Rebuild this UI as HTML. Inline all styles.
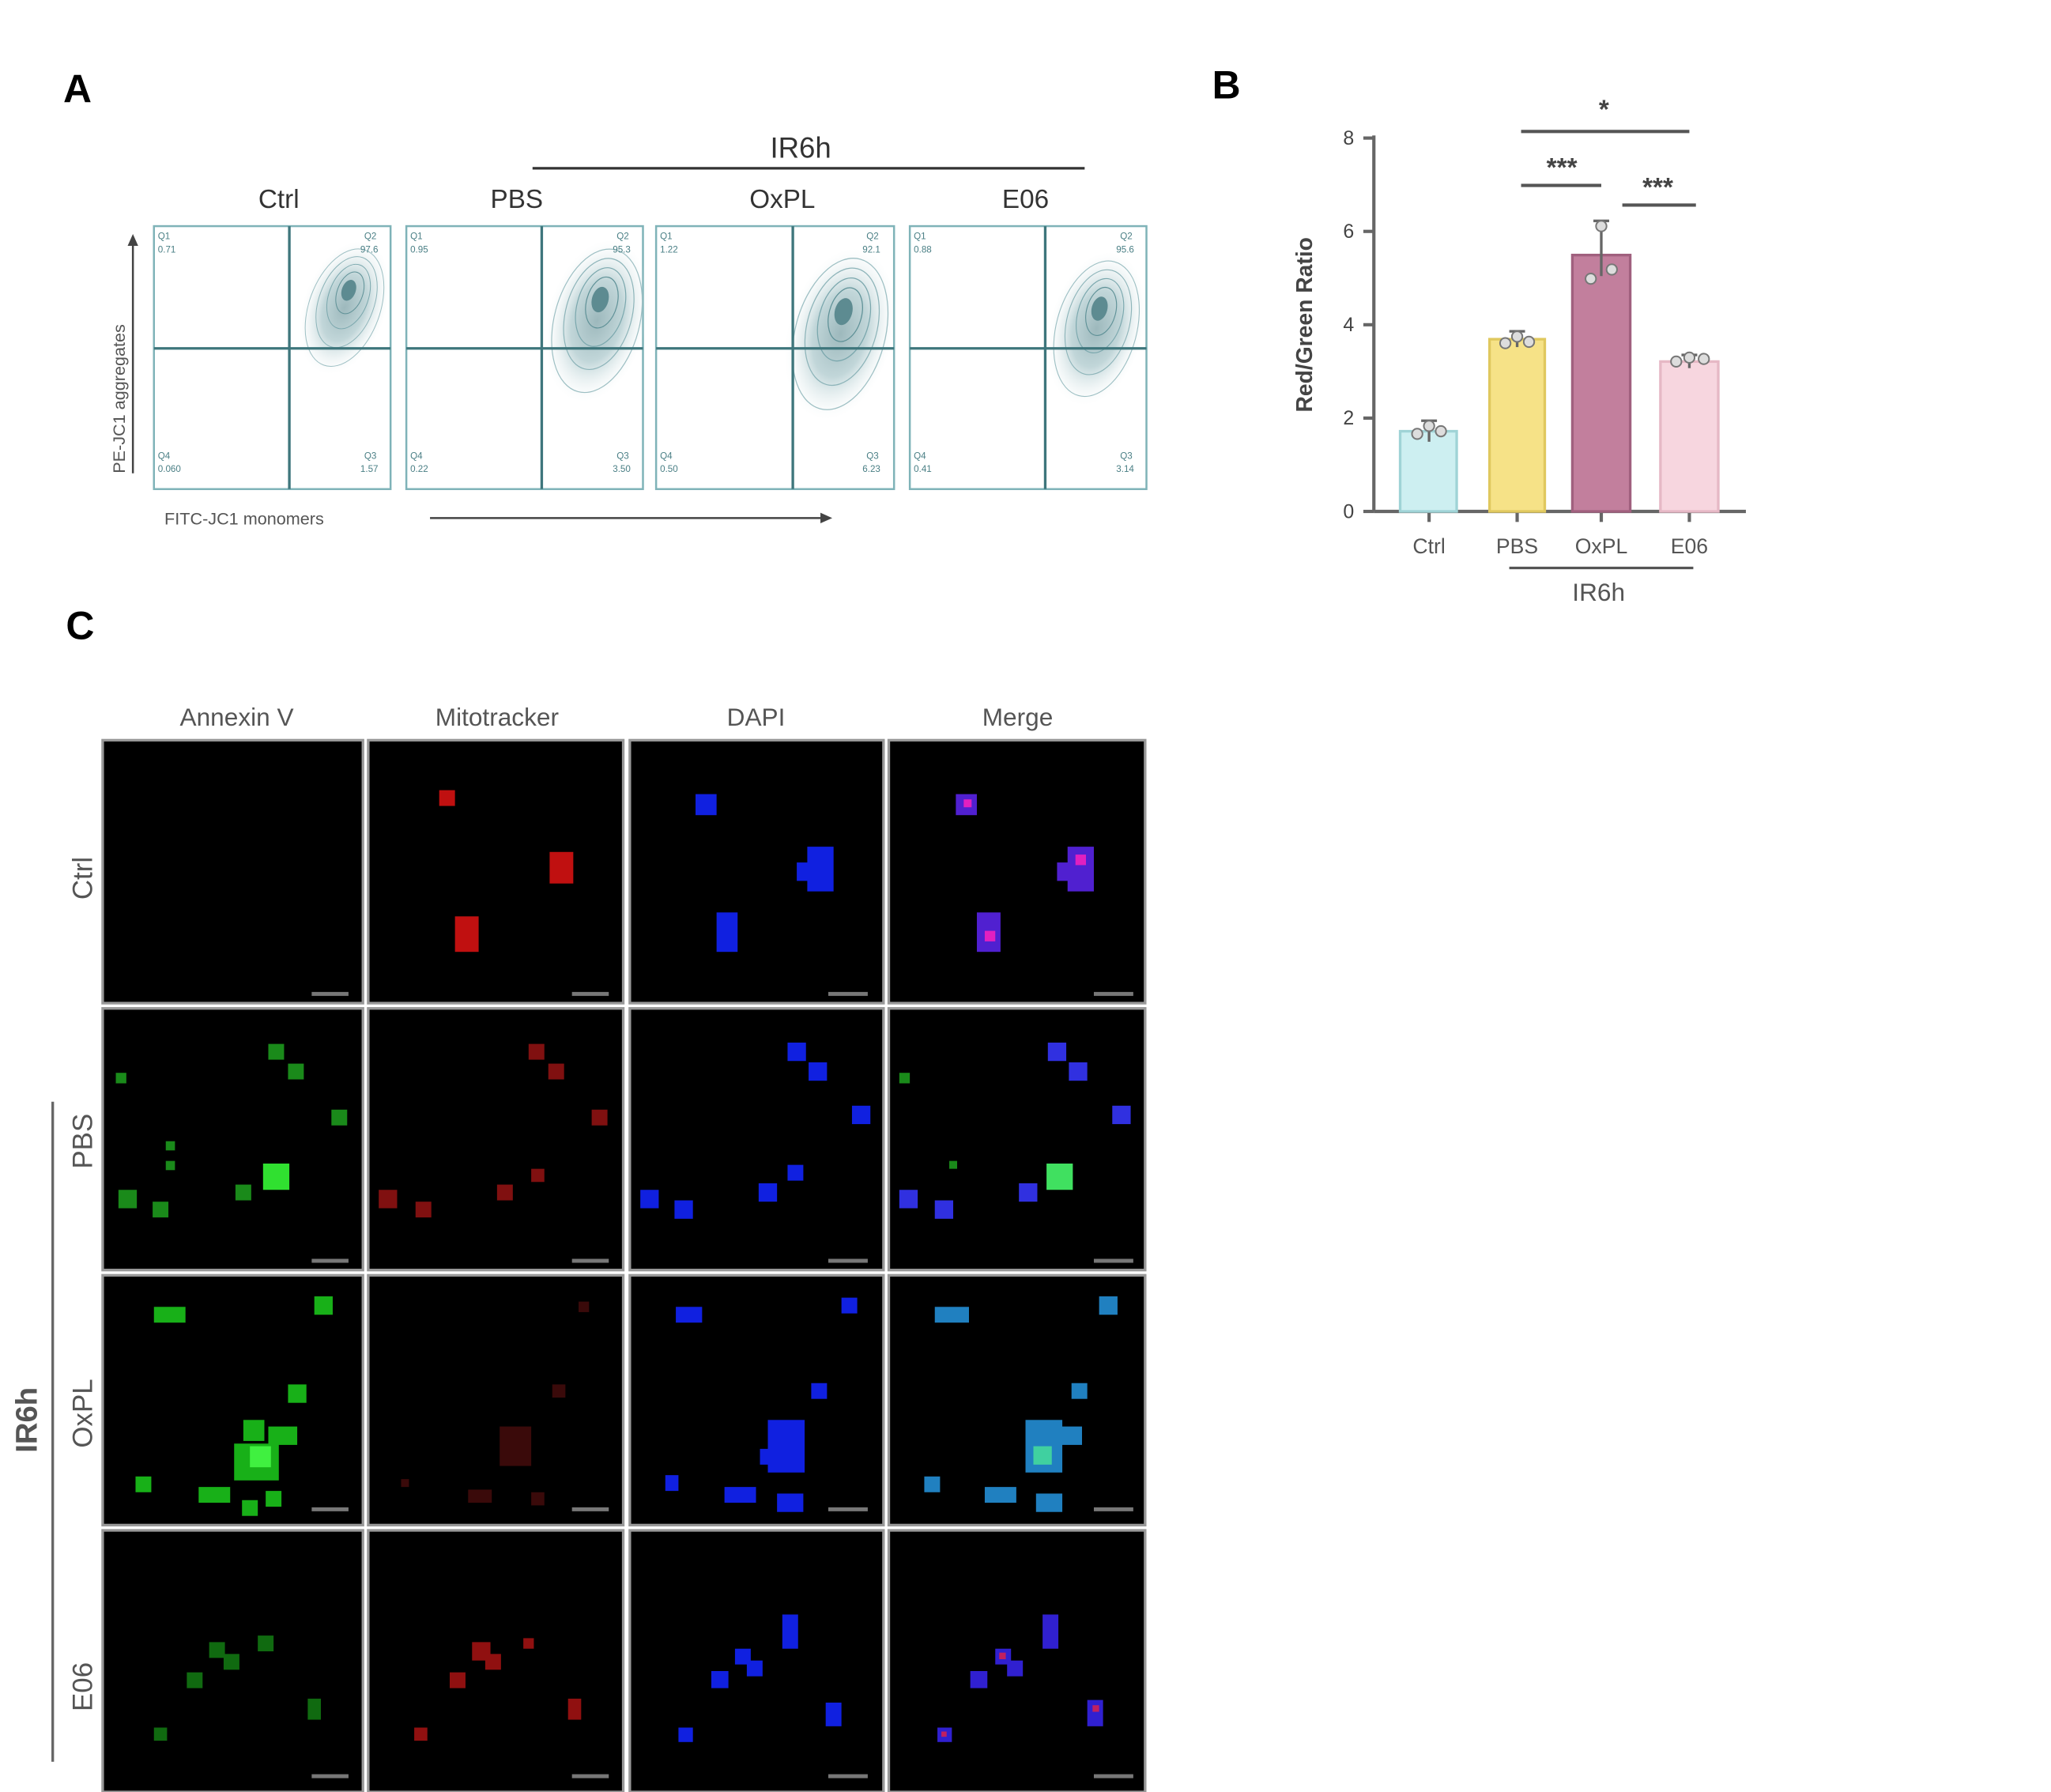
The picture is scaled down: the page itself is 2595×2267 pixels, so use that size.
<!DOCTYPE html>
<html><head><meta charset="utf-8"><style>
html,body{margin:0;padding:0;background:#fff;}
svg{display:block;font-family:"Liberation Sans",Arial,sans-serif;}
</style></head><body>
<svg width="2595" height="2267" viewBox="0 0 1560 1363" xmlns="http://www.w3.org/2000/svg">
<defs>
<radialGradient id="blob" cx="50%" cy="50%" r="50%">
<stop offset="0" stop-color="#4d7f86"/><stop offset="0.5" stop-color="#8fb5ba"/><stop offset="1" stop-color="#e6f0f1" stop-opacity="0"/>
</radialGradient>
<g id="contour">
<ellipse cx="0" cy="0" rx="42" ry="70" fill="url(#blob)" opacity="0.55"/>
<ellipse cx="0" cy="0" rx="36" ry="62" fill="none" stroke="#9dbfc3" stroke-width="0.8"/>
<ellipse cx="0" cy="-6" rx="28" ry="48" fill="none" stroke="#8db4b9" stroke-width="0.8"/>
<ellipse cx="0" cy="-12" rx="20" ry="34" fill="none" stroke="#7aa7ad" stroke-width="0.8"/>
<ellipse cx="0" cy="-16" rx="13" ry="22" fill="none" stroke="#5f9197" stroke-width="0.8"/>
<ellipse cx="-2" cy="-18" rx="7" ry="11" fill="#5d8b91"/>
</g>
</defs>
<rect width="1560" height="1363" fill="#fff"/>

<!-- Panel letters -->
<text x="48" y="78" font-size="30" font-weight="bold">A</text>
<text x="922" y="75" font-size="30" font-weight="bold">B</text>
<text x="50" y="486" font-size="30" font-weight="bold">C</text>

<!-- A: flow -->
<text x="609" y="120" font-size="22" text-anchor="middle" fill="#333">IR6h</text>
<line x1="405" y1="128" x2="825" y2="128" stroke="#333" stroke-width="2"/>
<g font-size="20" fill="#333" text-anchor="middle">
<text x="212" y="158">Ctrl</text><text x="393" y="158">PBS</text><text x="595" y="158">OxPL</text><text x="780" y="158">E06</text>
</g>
<g>
<g transform="translate(117,172)">
<rect width="180" height="200" fill="#fff" stroke="#7fb3b8" stroke-width="1.5"/>
<use href="#contour" transform="translate(145,62) rotate(20) scale(0.75)"/>
<line x1="103" y1="0" x2="103" y2="200" stroke="#3e767c" stroke-width="2"/>
<line x1="0" y1="93" x2="180" y2="93" stroke="#3e767c" stroke-width="2"/>
<g font-size="7" fill="#4a7f85"><text x="3" y="10">Q1</text><text x="3" y="20">0.71</text><text x="160" y="10">Q2</text><text x="157" y="20">97.6</text><text x="3" y="177">Q4</text><text x="3" y="187">0.060</text><text x="160" y="177">Q3</text><text x="157" y="187">1.57</text></g>
</g>
<g transform="translate(309,172)">
<rect width="180" height="200" fill="#fff" stroke="#7fb3b8" stroke-width="1.5"/>
<use href="#contour" transform="translate(145,72) rotate(15) scale(0.9)"/>
<line x1="103" y1="0" x2="103" y2="200" stroke="#3e767c" stroke-width="2"/>
<line x1="0" y1="93" x2="180" y2="93" stroke="#3e767c" stroke-width="2"/>
<g font-size="7" fill="#4a7f85"><text x="3" y="10">Q1</text><text x="3" y="20">0.95</text><text x="160" y="10">Q2</text><text x="157" y="20">95.3</text><text x="3" y="177">Q4</text><text x="3" y="187">0.22</text><text x="160" y="177">Q3</text><text x="157" y="187">3.50</text></g>
</g>
<g transform="translate(499,172)">
<rect width="181" height="200" fill="#fff" stroke="#7fb3b8" stroke-width="1.5"/>
<use href="#contour" transform="translate(140,82) rotate(15) scale(0.95)"/>
<line x1="104" y1="0" x2="104" y2="200" stroke="#3e767c" stroke-width="2"/>
<line x1="0" y1="93" x2="181" y2="93" stroke="#3e767c" stroke-width="2"/>
<g font-size="7" fill="#4a7f85"><text x="3" y="10">Q1</text><text x="3" y="20">1.22</text><text x="160" y="10">Q2</text><text x="157" y="20">92.1</text><text x="3" y="177">Q4</text><text x="3" y="187">0.50</text><text x="160" y="177">Q3</text><text x="157" y="187">6.23</text></g>
</g>
<g transform="translate(692,172)">
<rect width="180" height="200" fill="#fff" stroke="#7fb3b8" stroke-width="1.5"/>
<use href="#contour" transform="translate(142,78) rotate(15) scale(0.85)"/>
<line x1="103" y1="0" x2="103" y2="200" stroke="#3e767c" stroke-width="2"/>
<line x1="0" y1="93" x2="180" y2="93" stroke="#3e767c" stroke-width="2"/>
<g font-size="7" fill="#4a7f85"><text x="3" y="10">Q1</text><text x="3" y="20">0.88</text><text x="160" y="10">Q2</text><text x="157" y="20">95.6</text><text x="3" y="177">Q4</text><text x="3" y="187">0.41</text><text x="160" y="177">Q3</text><text x="157" y="187">3.14</text></g>
</g>
</g>
<text x="125" y="399" font-size="13" fill="#555">FITC-JC1 monomers</text>
<line x1="327" y1="394" x2="630" y2="394" stroke="#444" stroke-width="1.5"/>
<polygon points="633,394 624,390 624,398" fill="#444"/>
<text transform="translate(95,360) rotate(-90)" font-size="13" fill="#555">PE-JC1 aggregates</text>
<line x1="101" y1="360" x2="101" y2="182" stroke="#444" stroke-width="1.5"/>
<polygon points="101,178 97,187 105,187" fill="#444"/>

<!-- B: bar chart -->
<g stroke="#666" stroke-width="2.5" fill="none">
<line x1="1045" y1="103" x2="1045" y2="389"/>
<line x1="1045" y1="389" x2="1328" y2="389"/>
<line x1="1037" y1="105" x2="1045" y2="105"/><line x1="1037" y1="176" x2="1045" y2="176"/>
<line x1="1037" y1="247" x2="1045" y2="247"/><line x1="1037" y1="318" x2="1045" y2="318"/>
<line x1="1037" y1="389" x2="1045" y2="389"/>
<line x1="1087" y1="389" x2="1087" y2="397"/><line x1="1154" y1="389" x2="1154" y2="397"/>
<line x1="1218" y1="389" x2="1218" y2="397"/><line x1="1285" y1="389" x2="1285" y2="397"/>
</g>
<g font-size="15" fill="#444" text-anchor="end">
<text x="1030" y="110">8</text><text x="1030" y="181">6</text><text x="1030" y="252">4</text><text x="1030" y="323">2</text><text x="1030" y="394">0</text>
</g>
<text transform="translate(998,247) rotate(-90)" font-size="17" font-weight="bold" fill="#444" text-anchor="middle">Red/Green Ratio</text>
<rect x="1065" y="328" width="43" height="61" fill="#cdeff1" stroke="#9fd3d6" stroke-width="2"/>
<rect x="1133" y="258" width="42" height="131" fill="#f6e287" stroke="#e0c85e" stroke-width="2"/>
<rect x="1196" y="194" width="44" height="195" fill="#c27f9d" stroke="#a0607e" stroke-width="2"/>
<rect x="1263" y="275" width="44" height="114" fill="#f7d6df" stroke="#e6b8c5" stroke-width="2"/>
<g stroke="#666" stroke-width="2">
<line x1="1087" y1="320" x2="1087" y2="336"/><line x1="1081" y1="320" x2="1093" y2="320"/>
<line x1="1154" y1="252" x2="1154" y2="264"/><line x1="1148" y1="252" x2="1160" y2="252"/>
<line x1="1218" y1="168" x2="1218" y2="210"/><line x1="1212" y1="168" x2="1224" y2="168"/>
<line x1="1285" y1="270" x2="1285" y2="280"/><line x1="1279" y1="270" x2="1291" y2="270"/>
</g>
<g fill="#ddd" stroke="#777" stroke-width="1.2">
<circle cx="1078" cy="330" r="4"/><circle cx="1087" cy="324" r="4"/><circle cx="1096" cy="328" r="4"/>
<circle cx="1145" cy="261" r="4"/><circle cx="1154" cy="256" r="4"/><circle cx="1163" cy="260" r="4"/>
<circle cx="1210" cy="212" r="4"/><circle cx="1218" cy="172" r="4"/><circle cx="1226" cy="205" r="4"/>
<circle cx="1275" cy="275" r="4"/><circle cx="1285" cy="272" r="4"/><circle cx="1296" cy="273" r="4"/>
</g>
<g font-size="16" fill="#555" text-anchor="middle">
<text x="1087" y="421">Ctrl</text><text x="1154" y="421">PBS</text><text x="1218" y="421">OxPL</text><text x="1285" y="421">E06</text>
<text x="1216" y="457" font-size="19">IR6h</text>
</g>
<line x1="1148" y1="432" x2="1288" y2="432" stroke="#555" stroke-width="2"/>
<g stroke="#555" stroke-width="2.5">
<line x1="1157" y1="100" x2="1285" y2="100"/>
<line x1="1157" y1="141" x2="1218" y2="141"/>
<line x1="1234" y1="156" x2="1290" y2="156"/>
</g>
<g font-size="20" font-weight="bold" fill="#444" text-anchor="middle">
<text x="1220" y="90">*</text><text x="1188" y="134">***</text><text x="1261" y="149">***</text>
</g>

<!-- C: images -->
<g font-size="19" fill="#555" text-anchor="middle">
<text x="180" y="552">Annexin V</text><text x="378" y="552">Mitotracker</text><text x="575" y="552">DAPI</text><text x="774" y="552">Merge</text>
</g>
<g font-size="21" fill="#555" text-anchor="middle">
<text transform="translate(70,668) rotate(-90)">Ctrl</text>
<text transform="translate(70,868) rotate(-90)">PBS</text>
<text transform="translate(70,1075) rotate(-90)">OxPL</text>
<text transform="translate(70,1283) rotate(-90)">E06</text>
<text transform="translate(28,1080) rotate(-90)" font-weight="bold" font-size="23">IR6h</text>
</g>
<line x1="40" y1="838" x2="40" y2="1340" stroke="#666" stroke-width="2"/>

<g stroke="#999" stroke-width="2" fill="#000">
<rect x="78" y="563" width="198" height="200"/><rect x="280" y="563" width="194" height="200"/><rect x="479" y="563" width="193" height="200"/><rect x="676" y="563" width="195" height="200"/>
<rect x="78" y="767" width="198" height="199"/><rect x="280" y="767" width="194" height="199"/><rect x="479" y="767" width="193" height="199"/><rect x="676" y="767" width="195" height="199"/>
<rect x="78" y="970" width="198" height="190"/><rect x="280" y="970" width="194" height="190"/><rect x="479" y="970" width="193" height="190"/><rect x="676" y="970" width="195" height="190"/>
<rect x="78" y="1164" width="198" height="199"/><rect x="280" y="1164" width="194" height="199"/><rect x="479" y="1164" width="193" height="199"/><rect x="676" y="1164" width="195" height="199"/>
</g>
<g stroke="#777" stroke-width="3">
<line x1="237" y1="756" x2="265" y2="756"/><line x1="435" y1="756" x2="463" y2="756"/><line x1="630" y1="756" x2="660" y2="756"/><line x1="832" y1="756" x2="862" y2="756"/>
<line x1="237" y1="959" x2="265" y2="959"/><line x1="435" y1="959" x2="463" y2="959"/><line x1="630" y1="959" x2="660" y2="959"/><line x1="832" y1="959" x2="862" y2="959"/>
<line x1="237" y1="1148" x2="265" y2="1148"/><line x1="435" y1="1148" x2="463" y2="1148"/><line x1="630" y1="1148" x2="660" y2="1148"/><line x1="832" y1="1148" x2="862" y2="1148"/>
<line x1="237" y1="1351" x2="265" y2="1351"/><line x1="435" y1="1351" x2="463" y2="1351"/><line x1="630" y1="1351" x2="660" y2="1351"/><line x1="832" y1="1351" x2="862" y2="1351"/>
</g>

<!-- Row 1 Ctrl -->
<g fill="#c01010">
<rect x="334" y="601" width="12" height="12"/><rect x="418" y="648" width="18" height="24"/><rect x="346" y="697" width="18" height="27"/>
</g>
<g fill="#1020e0">
<rect x="529" y="604" width="16" height="16"/><rect x="614" y="644" width="20" height="34"/><rect x="606" y="656" width="14" height="14"/><rect x="545" y="694" width="16" height="30"/>
</g>
<g fill="#5020d0">
<rect x="727" y="604" width="16" height="16"/><rect x="812" y="644" width="20" height="34"/><rect x="804" y="656" width="14" height="14"/><rect x="743" y="694" width="18" height="30"/>
</g>
<g fill="#e020c0"><rect x="733" y="608" width="6" height="6"/><rect x="818" y="650" width="8" height="8"/><rect x="749" y="708" width="8" height="8"/></g>

<!-- Row 2 PBS -->
<g fill="#1a8a1a">
<rect x="204" y="794" width="12" height="12"/><rect x="219" y="809" width="12" height="12"/><rect x="88" y="816" width="8" height="8"/><rect x="252" y="844" width="12" height="12"/><rect x="126" y="868" width="7" height="7"/><rect x="126" y="883" width="7" height="7"/><rect x="90" y="905" width="14" height="14"/><rect x="116" y="914" width="12" height="12"/><rect x="179" y="901" width="12" height="12"/>
</g>
<rect x="200" y="885" width="20" height="20" fill="#30e030"/>
<g fill="#801010">
<rect x="402" y="794" width="12" height="12"/><rect x="417" y="809" width="12" height="12"/><rect x="450" y="844" width="12" height="12"/><rect x="288" y="905" width="14" height="14"/><rect x="316" y="914" width="12" height="12"/><rect x="378" y="901" width="12" height="12"/><rect x="404" y="889" width="10" height="10"/>
</g>
<g fill="#1020e0">
<rect x="599" y="793" width="14" height="14"/><rect x="615" y="808" width="14" height="14"/><rect x="648" y="841" width="14" height="14"/><rect x="487" y="905" width="14" height="14"/><rect x="513" y="913" width="14" height="14"/><rect x="577" y="900" width="14" height="14"/><rect x="599" y="886" width="12" height="12"/>
</g>
<g fill="#3030e0">
<rect x="797" y="793" width="14" height="14"/><rect x="813" y="808" width="14" height="14"/><rect x="846" y="841" width="14" height="14"/><rect x="684" y="905" width="14" height="14"/><rect x="711" y="913" width="14" height="14"/><rect x="775" y="900" width="14" height="14"/>
</g>
<rect x="796" y="885" width="20" height="20" fill="#40e060"/><rect x="684" y="816" width="8" height="8" fill="#1a8a1a"/><rect x="722" y="883" width="6" height="6" fill="#1a8a1a"/>

<!-- Row 3 OxPL -->
<g fill="#18b018">
<rect x="117" y="994" width="24" height="12"/><rect x="239" y="986" width="14" height="14"/><rect x="219" y="1053" width="14" height="14"/><rect x="103" y="1123" width="12" height="12"/><rect x="151" y="1131" width="24" height="12"/><rect x="202" y="1134" width="12" height="12"/><rect x="184" y="1141" width="12" height="12"/>
<rect x="185" y="1080" width="16" height="16"/><rect x="204" y="1085" width="22" height="14"/><rect x="178" y="1098" width="34" height="28"/>
</g>
<rect x="190" y="1100" width="16" height="16" fill="#40f040"/>
<g fill="#3a0a0a"><rect x="420" y="1053" width="10" height="10"/><rect x="380" y="1085" width="24" height="30"/><rect x="356" y="1133" width="18" height="10"/><rect x="404" y="1135" width="10" height="10"/><rect x="440" y="990" width="8" height="8"/><rect x="305" y="1125" width="6" height="6"/></g>
<g fill="#1020e0">
<rect x="514" y="994" width="20" height="12"/><rect x="640" y="987" width="12" height="12"/><rect x="617" y="1052" width="12" height="12"/><rect x="584" y="1080" width="28" height="40"/><rect x="578" y="1102" width="12" height="12"/><rect x="506" y="1122" width="10" height="12"/><rect x="551" y="1131" width="24" height="12"/><rect x="591" y="1136" width="20" height="14"/>
</g>
<g fill="#2080c0">
<rect x="711" y="994" width="26" height="12"/><rect x="836" y="986" width="14" height="14"/><rect x="815" y="1052" width="12" height="12"/><rect x="703" y="1123" width="12" height="12"/><rect x="749" y="1131" width="24" height="12"/><rect x="788" y="1136" width="20" height="14"/>
<rect x="780" y="1080" width="28" height="40"/><rect x="805" y="1085" width="18" height="14"/>
</g>
<rect x="786" y="1100" width="14" height="14" fill="#40d0a0"/>

<!-- Row 4 E06 -->
<g fill="#106a10">
<rect x="159" y="1249" width="12" height="12"/><rect x="170" y="1258" width="12" height="12"/><rect x="196" y="1244" width="12" height="12"/><rect x="142" y="1272" width="12" height="12"/><rect x="234" y="1292" width="10" height="16"/><rect x="117" y="1314" width="10" height="10"/>
</g>
<g fill="#901010">
<rect x="359" y="1249" width="14" height="14"/><rect x="369" y="1258" width="12" height="12"/><rect x="342" y="1272" width="12" height="12"/><rect x="432" y="1292" width="10" height="16"/><rect x="315" y="1314" width="10" height="10"/><rect x="398" y="1246" width="8" height="8"/>
</g>
<g fill="#1020e0">
<rect x="595" y="1228" width="12" height="26"/><rect x="559" y="1254" width="12" height="12"/><rect x="568" y="1263" width="12" height="12"/><rect x="541" y="1271" width="13" height="13"/><rect x="628" y="1295" width="12" height="18"/><rect x="516" y="1314" width="11" height="11"/>
</g>
<g fill="#3020d0">
<rect x="793" y="1228" width="12" height="26"/><rect x="757" y="1254" width="12" height="12"/><rect x="766" y="1263" width="12" height="12"/><rect x="738" y="1271" width="13" height="13"/><rect x="827" y="1293" width="12" height="20"/><rect x="713" y="1314" width="11" height="11"/>
</g>
<g fill="#c02060"><rect x="760" y="1257" width="5" height="5"/><rect x="831" y="1297" width="5" height="5"/><rect x="716" y="1317" width="4" height="4"/></g>
</svg>
</body></html>
